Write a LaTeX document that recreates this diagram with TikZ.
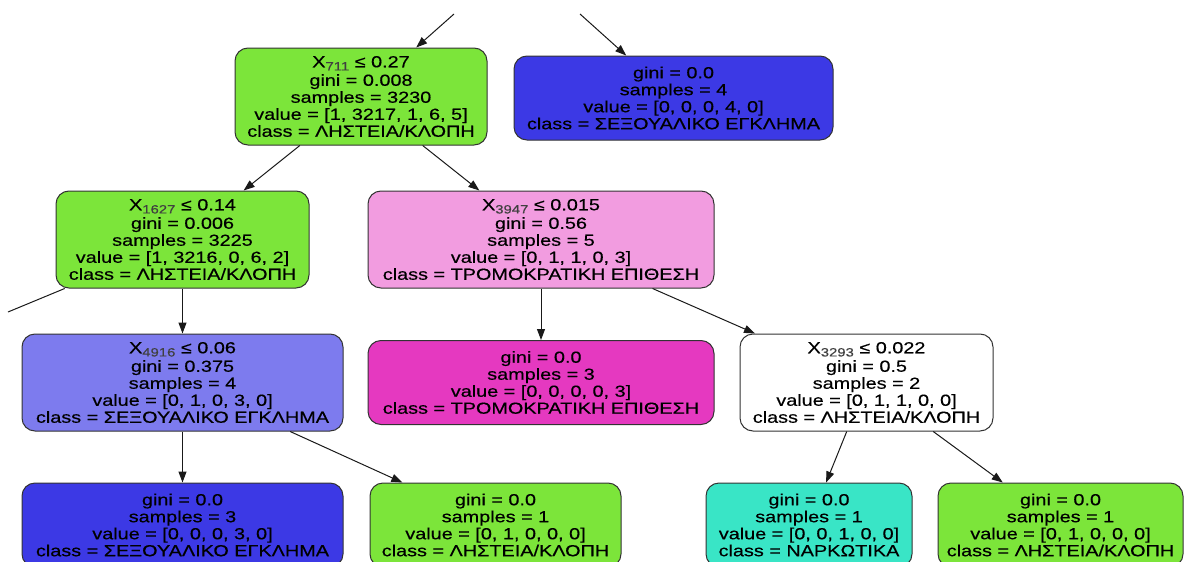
\documentclass[tikz,border=0pt]{standalone}
\usepackage{fontspec}
\setmainfont{Liberation Sans}[FakeStretch=1.24,FakeBold=0.4]
\usetikzlibrary{arrows.meta}

% class colours of the decision tree (blended with white by purity)
\definecolor{cgreen}{RGB}{124,229,58}
\definecolor{cblue}{RGB}{60,57,229}
\definecolor{clilac}{RGB}{125,123,238}
\definecolor{cpink}{RGB}{242,156,224}
\definecolor{cmagenta}{RGB}{229,57,192}
\definecolor{ccyan}{RGB}{57,229,198}

% feature index written as a subscript
\newcommand{\featidx}[1]{\raisebox{-0.2em}{\fontsize{12}{12}\selectfont\color{black!75}#1}}

\tikzset{
  tnode/.style={draw=black!80, line width=1pt, rounded corners=13pt, inner sep=0pt,
    align=center, font=\fontsize{16}{17}\selectfont, minimum height=97pt},
  leaf/.style={tnode, minimum height=84pt},
  edge/.style={-{Triangle[length=11pt,width=8pt]}, line width=1pt, black!90},
  cutedge/.style={line width=1pt, black!90},
}

\begin{document}
\begin{tikzpicture}[x=1pt,y=-1pt]
\useasboundingbox (0,0) rectangle (1189,562);
\clip (0,0) rectangle (1189,562);

% internal split nodes
\node[tnode, fill=cgreen, minimum width=252pt] (A) at (361,96.5)
  {X\featidx{711} ≤ 0.27\\[1.5pt]gini = 0.008\\samples = 3230\\value = [1, 3217, 1, 6, 5]\\class = ΛΗΣΤΕΙΑ/ΚΛΟΠΗ};
\node[tnode, fill=cgreen, minimum width=253pt] (C) at (182.5,239.5)
  {X\featidx{1627} ≤ 0.14\\[1.5pt]gini = 0.006\\samples = 3225\\value = [1, 3216, 0, 6, 2]\\class = ΛΗΣΤΕΙΑ/ΚΛΟΠΗ};
\node[tnode, fill=cpink, minimum width=346pt] (D) at (541,239.5)
  {X\featidx{3947} ≤ 0.015\\[1.5pt]gini = 0.56\\samples = 5\\value = [0, 1, 1, 0, 3]\\class = ΤΡΟΜΟΚΡΑΤΙΚΗ ΕΠΙΘΕΣΗ};
\node[tnode, fill=clilac, minimum width=321pt] (E) at (182.5,382.5)
  {X\featidx{4916} ≤ 0.06\\[1.5pt]gini = 0.375\\samples = 4\\value = [0, 1, 0, 3, 0]\\class = ΣΕΞΟΥΑΛΙΚΟ ΕΓΚΛΗΜΑ};
\node[tnode, fill=white, minimum width=253pt] (G) at (866.5,382.5)
  {X\featidx{3293} ≤ 0.022\\[1.5pt]gini = 0.5\\samples = 2\\value = [0, 1, 1, 0, 0]\\class = ΛΗΣΤΕΙΑ/ΚΛΟΠΗ};

% leaves
\node[leaf, fill=cblue, minimum width=319pt] (B) at (673.5,98)
  {gini = 0.0\\samples = 4\\value = [0, 0, 0, 4, 0]\\class = ΣΕΞΟΥΑΛΙΚΟ ΕΓΚΛΗΜΑ};
\node[leaf, fill=cmagenta, minimum width=346pt] (F) at (541,382.5)
  {gini = 0.0\\samples = 3\\value = [0, 0, 0, 0, 3]\\class = ΤΡΟΜΟΚΡΑΤΙΚΗ ΕΠΙΘΕΣΗ};
\node[leaf, fill=cblue, minimum width=321pt] (H) at (182.5,525)
  {gini = 0.0\\samples = 3\\value = [0, 0, 0, 3, 0]\\class = ΣΕΞΟΥΑΛΙΚΟ ΕΓΚΛΗΜΑ};
\node[leaf, fill=cgreen, minimum width=251pt] (I) at (495.5,525)
  {gini = 0.0\\samples = 1\\value = [0, 1, 0, 0, 0]\\class = ΛΗΣΤΕΙΑ/ΚΛΟΠΗ};
\node[leaf, fill=ccyan, minimum width=206pt] (J) at (809,525)
  {gini = 0.0\\samples = 1\\value = [0, 0, 1, 0, 0]\\class = ΝΑΡΚΩΤΙΚΑ};
\node[leaf, fill=cgreen, minimum width=245pt] (K) at (1060.5,525)
  {gini = 0.0\\samples = 1\\value = [0, 1, 0, 0, 0]\\class = ΛΗΣΤΕΙΑ/ΚΛΟΠΗ};

% loose ends of edges leading to and from the rest of the tree
\coordinate (inA) at (454,14);
\coordinate (inB) at (580,14);
\coordinate (outC) at (8,312);

\draw[edge] (inA) -- (A);
\draw[edge] (inB) -- (B);
\draw[edge] (A) -- (C);
\draw[edge] (A) -- (D);
\draw[cutedge] (C) -- (outC);
\draw[edge] (C) -- (E);
\draw[edge] (D) -- (F);
\draw[edge] (D) -- (G);
\draw[edge] (E) -- (H);
\draw[edge] (E) -- (I);
\draw[edge] (G) -- (J);
\draw[edge] (G) -- (K);
\end{tikzpicture}
\end{document}
